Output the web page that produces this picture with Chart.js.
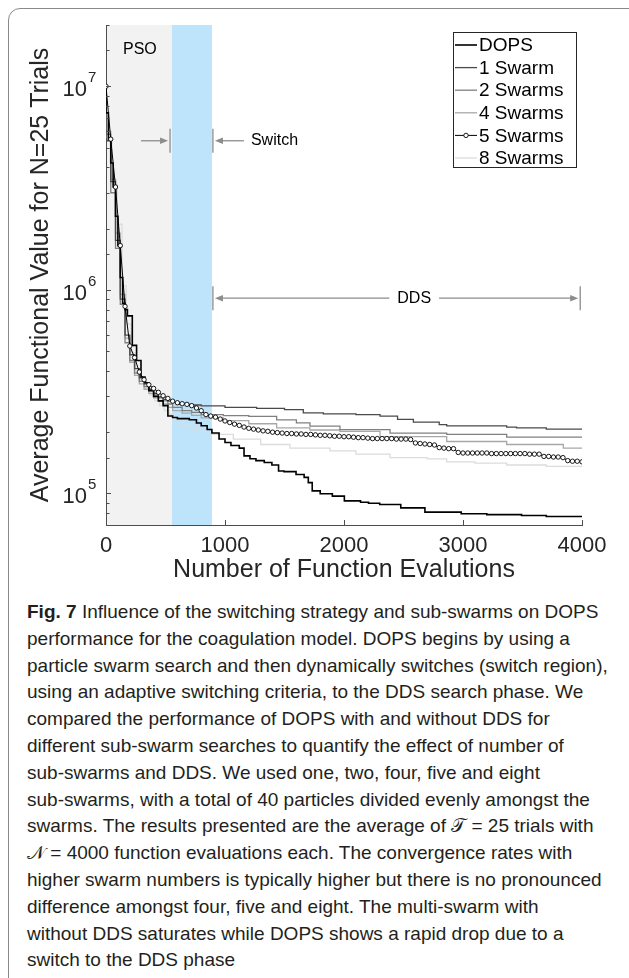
<!DOCTYPE html>
<html>
<head>
<meta charset="utf-8">
<script src="https://cdn.jsdelivr.net/npm/chart.js@4.4.1/dist/chart.umd.min.js"></script>
<style>
  html, body { margin: 0; padding: 0; background: #fff; overflow: hidden; width: 629px; height: 978px; }
  #frame { position: absolute; left: 8px; top: 8px; width: 700px; height: 1100px; border: 1px solid #8a8a8a; border-radius: 12px; }
  #chart { position: absolute; left: 0; top: 0; }
  #caption { position: absolute; left: 27px; top: 599px; font-family: 'Liberation Sans', Arial, sans-serif;
             font-size: 19px; line-height: 26.8px; color: #231f20; white-space: nowrap; }
</style>
</head>
<body>
<div id="frame"></div>
<canvas id="chart" width="629" height="590"></canvas>
<div id="caption"><b>Fig. 7</b> Influence of the switching strategy and sub-swarms on DOPS<br>
performance for the coagulation model. DOPS begins by using a<br>
particle swarm search and then dynamically switches (switch region),<br>
using an adaptive switching criteria, to the DDS search phase. We<br>
compared the performance of DOPS with and without DDS for<br>
different sub-swarm searches to quantify the effect of number of<br>
sub-swarms and DDS. We used one, two, four, five and eight<br>
sub-swarms, with a total of 40 particles divided evenly amongst the<br>
swarms. The results presented are the average of 𝒯 = 25 trials with<br>
𝒩 = 4000 function evaluations each. The convergence rates with<br>
higher swarm numbers is typically higher but there is no pronounced<br>
difference amongst four, five and eight. The multi-swarm with<br>
without DDS saturates while DOPS shows a rapid drop due to a<br>
switch to the DDS phase</div>
<script>
var FONT = "'Liberation Sans', Arial, Helvetica, sans-serif";

// phase boundaries (function evaluations)
var psoEnd = 555;
var switchEnd = 890;

var seriesNames = ['DOPS', '1 Swarm', '2 Swarms', '4 Swarms', '5 Swarms', '8 Swarms'];

var dopsX = [0, 20, 40, 60, 80, 100, 120, 140, 160, 180, 221, 257, 294, 328, 360, 400, 440, 480, 520, 560,
             600, 700, 760, 800, 850, 890, 950, 1000, 1050, 1120, 1160, 1210, 1260, 1330, 1394, 1450, 1496, 1597, 1665, 1700,
             1733, 1800, 1902, 2003, 2139, 2206, 2300, 2477, 2680, 2985, 3200, 3492, 3700, 4000];
var dopsY = [1.0e7, 7.4e6, 5.5e6, 4.2e6, 3.2e6, 2.3e6, 1.65e6, 1.15e6, 8.6e5, 8.0e5, 7.45e5, 5.34e5, 4.5e5, 3.73e5, 3.5e5, 3.2e5, 3.0e5, 2.85e5, 2.7e5, 2.4e5,
             2.36e5, 2.33e5, 2.3e5, 2.22e5, 2.15e5, 2.06e5, 1.98e5, 1.85e5, 1.78e5, 1.72e5, 1.67e5, 1.53e5, 1.48e5, 1.45e5, 1.42e5, 1.38e5, 1.29e5, 1.28e5, 1.24e5, 1.2e5,
             1.13e5, 1.03e5, 9.96e4, 9.7e4, 9.2e4, 9.06e4, 8.95e4, 8.83e4, 8.5e4, 8.1e4, 7.95e4, 7.87e4, 7.8e4, 7.7e4];

var swarm1X = [0, 40, 80, 120, 160, 200, 240, 280, 320, 360, 400, 440, 480, 520, 560, 600, 700, 800, 1000, 1266,
               1500, 1658, 1826, 2100, 2303, 2450, 2583, 2800, 2863, 3367, 3450, 3700, 3843, 4000];
var swarm1Y = [1.0e7, 5.4e6, 3.4e6, 1.75e6, 9.0e5, 6.0e5, 4.8e5, 4.1e5, 3.7e5, 3.45e5, 3.25e5, 3.1e5, 2.98e5, 2.9e5, 2.84e5, 2.8e5, 2.74e5, 2.72e5, 2.69e5, 2.65e5,
               2.62e5, 2.58e5, 2.49e5, 2.46e5, 2.44e5, 2.4e5, 2.31e5, 2.24e5, 2.18e5, 2.15e5, 2.12e5, 2.1e5, 2.07e5, 2.07e5];

var swarm2X = [0, 40, 80, 120, 160, 200, 240, 280, 320, 360, 400, 440, 480, 520, 560, 640, 720, 800, 986, 1200,
               1434, 1600, 1714, 1966, 2387, 2863, 3367, 3843, 4000];
var swarm2Y = [1.0e7, 5.8e6, 3.0e6, 1.6e6, 8.5e5, 5.5e5, 4.5e5, 3.9e5, 3.55e5, 3.35e5, 3.2e5, 3.05e5, 2.95e5, 2.85e5, 2.75e5, 2.65e5, 2.55e5, 2.5e5, 2.44e5, 2.41e5,
               2.39e5, 2.3e5, 2.22e5, 2.14e5, 2.06e5, 1.98e5, 1.95e5, 1.89e5, 1.89e5];

var swarm4X = [0, 40, 80, 120, 160, 200, 240, 280, 320, 360, 400, 440, 480, 520, 560, 640, 720, 800, 986, 1200,
               1434, 1714, 1966, 2303, 2863, 3367, 3843, 3950, 4000];
var swarm4Y = [1.0e7, 6.0e6, 3.5e6, 1.9e6, 9.5e5, 5.8e5, 4.4e5, 3.8e5, 3.45e5, 3.25e5, 3.1e5, 2.95e5, 2.85e5, 2.75e5, 2.65e5, 2.55e5, 2.48e5, 2.42e5, 2.35e5, 2.28e5,
               2.2e5, 2.1e5, 2.05e5, 2.02e5, 1.9e5, 1.8e5, 1.74e5, 1.67e5, 1.67e5];

var swarm5X = [0, 40, 80, 120, 160, 200, 240, 280, 320, 360,
               400, 440, 480, 520, 560, 600, 640, 680, 720, 760,
               800, 840, 880, 920, 960, 1000, 1040, 1080, 1120, 1160,
               1200, 1240, 1280, 1320, 1360, 1400, 1440, 1480, 1520, 1560,
               1600, 1640, 1680, 1720, 1760, 1800, 1840, 1880, 1920, 1960,
               2000, 2040, 2080, 2120, 2160, 2200, 2240, 2280, 2320, 2360,
               2400, 2440, 2480, 2520, 2560, 2600, 2640, 2680, 2720, 2760,
               2800, 2840, 2880, 2920, 2960, 3000, 3040, 3080, 3120, 3160,
               3200, 3240, 3280, 3320, 3360, 3400, 3440, 3480, 3520, 3560,
               3600, 3640, 3680, 3720, 3760, 3800, 3840, 3880, 3920, 3960,
               4000];
var swarm5Y = [1.0e7, 5.5e6, 3.2e6, 1.65e6, 8.3e5, 5.3e5, 4.65e5, 3.95e5, 3.62e5, 3.42e5,
               3.28e5, 3.14e5, 3.02e5, 2.93e5, 2.84e5, 2.79e5, 2.76e5, 2.74e5, 2.7e5, 2.63e5,
               2.55e5, 2.44e5, 2.4e5, 2.37e5, 2.32e5, 2.27e5, 2.23e5, 2.19e5, 2.16e5, 2.12e5,
               2.09e5, 2.07e5, 2.05e5, 2.03e5, 2.02e5, 2.0e5, 1.99e5, 1.98e5, 1.97e5, 1.97e5,
               1.96e5, 1.96e5, 1.95e5, 1.95e5, 1.94e5, 1.93e5, 1.93e5, 1.92e5, 1.91e5, 1.91e5,
               1.9e5, 1.9e5, 1.89e5, 1.88e5, 1.88e5, 1.87e5, 1.86e5, 1.86e5, 1.86e5, 1.86e5,
               1.86e5, 1.85e5, 1.85e5, 1.85e5, 1.84e5, 1.77e5, 1.76e5, 1.75e5, 1.74e5, 1.73e5,
               1.68e5, 1.67e5, 1.66e5, 1.66e5, 1.59e5, 1.58e5, 1.58e5, 1.58e5, 1.58e5, 1.58e5,
               1.58e5, 1.57e5, 1.57e5, 1.57e5, 1.57e5, 1.57e5, 1.57e5, 1.57e5, 1.57e5, 1.56e5,
               1.56e5, 1.56e5, 1.52e5, 1.52e5, 1.51e5, 1.51e5, 1.5e5, 1.45e5, 1.44e5, 1.44e5,
               1.43e5];

var swarm8X = [0, 50, 95, 135, 170, 210, 250, 290, 330, 370, 410, 450, 490, 530, 560, 650, 760, 874, 1070, 1300,
               1546, 1882, 2100, 2387, 2700, 2863, 3100, 3367, 3700, 4000];
var swarm8Y = [1.0e7, 5.6e6, 3.3e6, 2.1e6, 1.05e6, 6.8e5, 4.9e5, 4.1e5, 3.6e5, 3.3e5, 3.05e5, 2.85e5, 2.7e5, 2.55e5, 2.45e5, 2.3e5, 2.15e5, 2.02e5, 1.95e5, 1.85e5,
               1.74e5, 1.67e5, 1.62e5, 1.56e5, 1.5e5, 1.48e5, 1.43e5, 1.41e5, 1.38e5, 1.36e5];

var xTicks = [0, 1000, 2000, 3000, 4000];
var yDecades = [5, 6, 7];

function pairs(xs, ys) {
    return xs.map(function (x, i) { return { x: x, y: ys[i] }; });
}

function stepLine(label, xs, ys, color, width, order) {
    return {
        label: label, data: pairs(xs, ys), borderColor: color, borderWidth: width,
        stepped: 'after', pointRadius: 0, fill: false, order: order
    };
}

function arrow(ctx, x1, y, x2) {
    var d = x2 > x1 ? 1 : -1;
    ctx.beginPath();
    ctx.moveTo(x1, y);
    ctx.lineTo(x2 - d * 5, y);
    ctx.stroke();
    ctx.beginPath();
    ctx.moveTo(x2, y);
    ctx.lineTo(x2 - d * 8, y - 3.2);
    ctx.lineTo(x2 - d * 8, y + 3.2);
    ctx.closePath();
    ctx.fill();
}

function bar(ctx, x, y) {
    ctx.beginPath();
    ctx.moveTo(x, y - 12);
    ctx.lineTo(x, y + 12);
    ctx.stroke();
}

var decor = {
    id: 'decor',
    beforeDraw: function (chart) {
        var ctx = chart.ctx, a = chart.chartArea, x = chart.scales.x;
        var x0 = x.getPixelForValue(0), x1 = x.getPixelForValue(psoEnd), x2 = x.getPixelForValue(switchEnd);
        ctx.save();
        ctx.fillStyle = '#f2f2f2';
        ctx.fillRect(x0, a.top, x1 - x0, a.bottom - a.top);
        ctx.fillStyle = '#bee4fb';
        ctx.fillRect(x1, a.top, x2 - x1, a.bottom - a.top);
        ctx.restore();
    },
    afterDraw: function (chart) {
        var ctx = chart.ctx, a = chart.chartArea, x = chart.scales.x, y = chart.scales.y;
        ctx.save();

        // inward ticks
        ctx.strokeStyle = '#4d4d4d';
        ctx.lineWidth = 1;
        y.ticks.forEach(function (t) {
            var v = t.value;
            var m = v / Math.pow(10, Math.floor(Math.log10(v) + 1e-9));
            var py = Math.round(y.getPixelForValue(v)) + 0.5;
            if (py < a.top - 1 || py > a.bottom + 1) return;
            var len = Math.abs(m - 1) < 1e-6 ? 5 : 3.5;
            ctx.beginPath();
            ctx.moveTo(a.left, py);
            ctx.lineTo(a.left + len, py);
            ctx.stroke();
        });
        x.ticks.forEach(function (t) {
            var px = Math.round(x.getPixelForValue(t.value)) + 0.5;
            ctx.beginPath();
            ctx.moveTo(px, a.bottom);
            ctx.lineTo(px, a.bottom - 5);
            ctx.stroke();
        });

        // y tick labels 10^n
        ctx.fillStyle = '#262626';
        yDecades.forEach(function (e) {
            var py = y.getPixelForValue(Math.pow(10, e));
            ctx.font = '22px ' + FONT;
            ctx.textAlign = 'right';
            ctx.textBaseline = 'alphabetic';
            ctx.fillText('10', 87, py + 10);
            ctx.font = '15px ' + FONT;
            ctx.textAlign = 'left';
            ctx.fillText(String(e), 88, py - 4);
        });

        // phase annotations
        var xa = x.getPixelForValue(psoEnd), xb = x.getPixelForValue(switchEnd), xe = x.getPixelForValue(3985);
        var ys = y.getPixelForValue(5.4e6), yd = y.getPixelForValue(9.1e5);
        ctx.strokeStyle = '#8c8c8c';
        ctx.fillStyle = '#8c8c8c';
        ctx.lineWidth = 1.3;
        bar(ctx, xa - 2, ys);
        bar(ctx, xb + 1, ys);
        arrow(ctx, xa - 31, ys, xa - 4);
        arrow(ctx, xb + 32, ys, xb + 3);
        bar(ctx, xb + 1, yd);
        bar(ctx, xe, yd);

        ctx.font = '16px ' + FONT;
        ctx.textBaseline = 'middle';
        var ddsX = x.getPixelForValue(2590);
        var ddsW = ctx.measureText('DDS').width;
        arrow(ctx, ddsX - ddsW / 2 - 8, yd, xb + 3);
        arrow(ctx, ddsX + ddsW / 2 + 8, yd, xe - 2);

        ctx.fillStyle = '#000';
        ctx.textAlign = 'center';
        ctx.fillText('DDS', ddsX, yd);
        ctx.fillText('PSO', x.getPixelForValue(285), y.getPixelForValue(1.52e7));
        ctx.textAlign = 'left';
        ctx.fillText('Switch', xb + 39, ys);

        // legend
        var lx = 453.5, ly = 32.5, lw = 123, lh = 135;
        ctx.fillStyle = '#fff';
        ctx.fillRect(lx, ly, lw, lh);
        ctx.strokeStyle = '#262626';
        ctx.lineWidth = 1;
        ctx.strokeRect(lx, ly, lw, lh);
        ctx.font = '19px ' + FONT;
        ctx.textBaseline = 'middle';
        chart.data.datasets.forEach(function (ds, i) {
            var cy = 45 + i * 22.6;
            ctx.strokeStyle = ds.borderColor;
            ctx.lineWidth = ds.borderWidth;
            ctx.beginPath();
            ctx.moveTo(455, cy);
            ctx.lineTo(477, cy);
            ctx.stroke();
            if (ds.pointRadius > 0) {
                ctx.beginPath();
                ctx.arc(466, cy, ds.pointRadius, 0, Math.PI * 2);
                ctx.fillStyle = '#fff';
                ctx.fill();
                ctx.lineWidth = ds.pointBorderWidth;
                ctx.stroke();
            }
            ctx.fillStyle = '#000';
            ctx.fillText(ds.label, 479, cy + 1);
        });
        ctx.restore();
    }
};

var ctx = document.getElementById('chart').getContext('2d');
var chart = new Chart(ctx, {
    type: 'line',
    data: {
        datasets: [
            stepLine(seriesNames[0], dopsX, dopsY, '#000000', 1.6, 1),
            stepLine(seriesNames[1], swarm1X, swarm1Y, '#4a4a4a', 1.3, 2),
            stepLine(seriesNames[2], swarm2X, swarm2Y, '#808080', 1.3, 3),
            stepLine(seriesNames[3], swarm4X, swarm4Y, '#a8a8a8', 1.3, 4),
            {
                label: seriesNames[4], data: pairs(swarm5X, swarm5Y), borderColor: '#000000', borderWidth: 1,
                pointRadius: 2.2, pointBorderWidth: 0.9, pointBackgroundColor: '#ffffff', pointBorderColor: '#000000',
                fill: false, order: 0
            },
            stepLine(seriesNames[5], swarm8X, swarm8Y, '#dcdcdc', 1.3, 5)
        ]
    },
    options: {
        responsive: false,
        animation: false,
        events: [],
        layout: { padding: { top: 25, right: 47, left: 0, bottom: 0 } },
        plugins: { legend: { display: false }, tooltip: { enabled: false } },
        scales: {
            x: {
                type: 'linear', min: 0, max: 4000,
                afterBuildTicks: function (scale) {
                    scale.ticks = xTicks.map(function (v) { return { value: v }; });
                },
                ticks: {
                    font: { size: 22, family: FONT }, color: '#262626', padding: 8, maxRotation: 0,
                    callback: function (v) { return String(v); }
                },
                grid: { display: false, drawTicks: false },
                border: { color: '#4d4d4d', width: 1 },
                title: {
                    display: true, text: 'Number of Function Evalutions', color: '#262626',
                    font: { size: 25, family: FONT }, padding: { top: 0, bottom: 5 }
                },
                afterFit: function (scale) { scale.height = 65; }
            },
            y: {
                type: 'logarithmic', min: 7e4, max: 2e7,
                ticks: { display: false },
                grid: { display: false, drawTicks: false },
                border: { color: '#4d4d4d', width: 1 },
                title: {
                    display: true, text: 'Average Functional Value for N=25 Trials', color: '#262626',
                    font: { size: 25, family: FONT }, padding: { top: 26, bottom: 0 }
                },
                afterFit: function (scale) { scale.width = 106; }
            }
        }
    },
    plugins: [decor]
});
</script>
</body>
</html>
